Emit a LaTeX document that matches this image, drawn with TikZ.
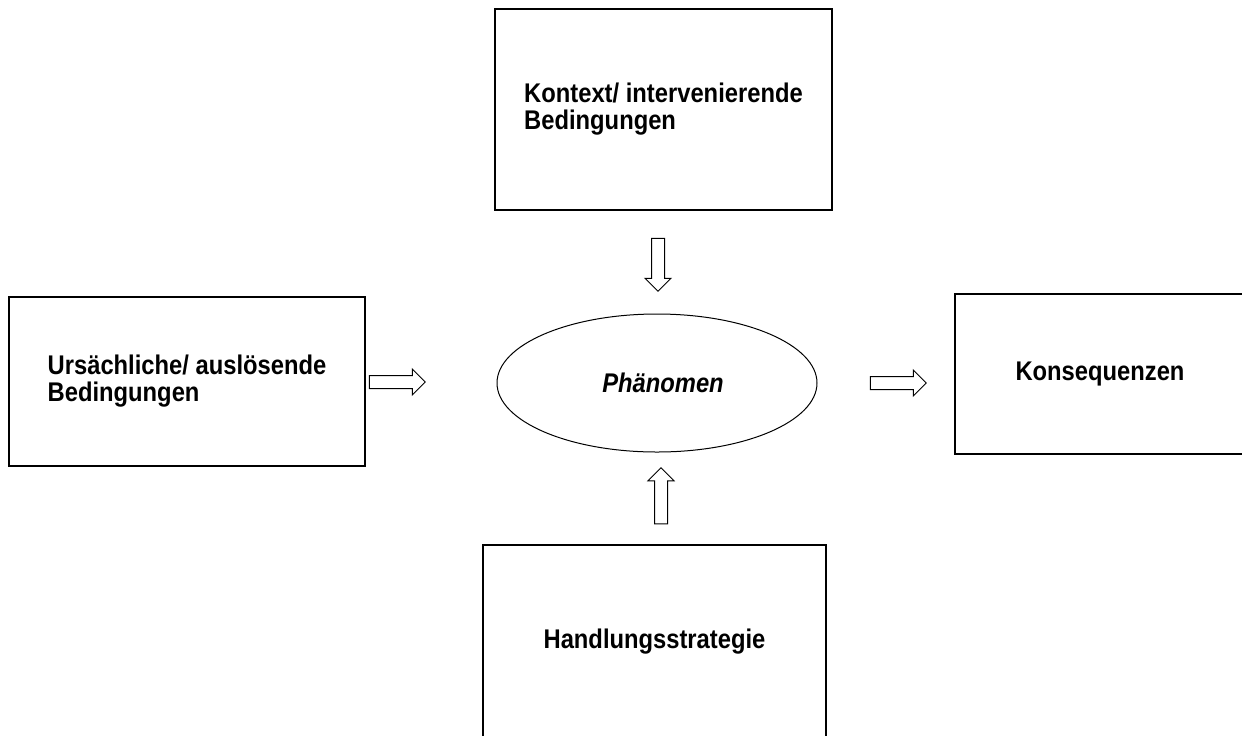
\documentclass[tikz,border=0pt]{standalone}
\usepackage{fontspec}
\setmainfont{Liberation Sans}
\newfontfamily\kastenfont[FakeStretch=0.88]{Liberation Sans}
\usetikzlibrary{shapes.geometric,shapes.arrows}

\tikzset{
	kasten/.style={draw, line width=0.6pt, rectangle, inner sep=0pt, align=left, font=\kastenfont\bfseries\fontsize{13.5}{13.5}\selectfont},
	blockpfeil/.style={draw, line width=0.5pt, single arrow, single arrow head extend=3.25pt, inner xsep=0pt, inner ysep=3pt, minimum height=28pt, minimum width=12.5pt},
}

\begin{document}
\begin{tikzpicture}[x=0.5pt, y=-0.5pt]
	% Bildrahmen (rechts und unten abgeschnitten)
	\useasboundingbox (0,0) rectangle (1242,735);
	\clip (0,0) rectangle (1242,735);
	% Kästen
	\node[kasten, minimum width=168.5pt, minimum height=100.5pt] (kontext) at (663.5,109.5) {Kontext/ intervenierende\\Bedingungen};
	\node[kasten, minimum width=178pt, minimum height=84.5pt] (ursache) at (187,381.5) {Ursächliche/ auslösende\\Bedingungen};
	\node[kasten, minimum width=145pt, minimum height=80pt] (konsequenz) at (1100,374) {Konsequenzen};
	\node[kasten, minimum width=171.5pt, minimum height=97pt] (strategie) at (654.5,642) {Handlungsstrategie};
	% Phänomen in der Mitte
	\node[draw, ellipse, line width=0.5pt, inner sep=0pt, minimum width=160pt, minimum height=69pt, font=\kastenfont\bfseries\itshape\fontsize{13.5}{14}\selectfont] (phaenomen) at (657,383) {\hspace*{6pt}Phänomen};
	% Blockpfeile
	\node[blockpfeil, rotate=-90, minimum height=26.5pt] (pfeilOben) at (658,261.5) {};
	\node[blockpfeil] (pfeilLinks) at (394,382) {};
	\node[blockpfeil] (pfeilRechts) at (895,383) {};
	\node[blockpfeil, rotate=90] (pfeilUnten) at (661,499) {};
\end{tikzpicture}
\end{document}
